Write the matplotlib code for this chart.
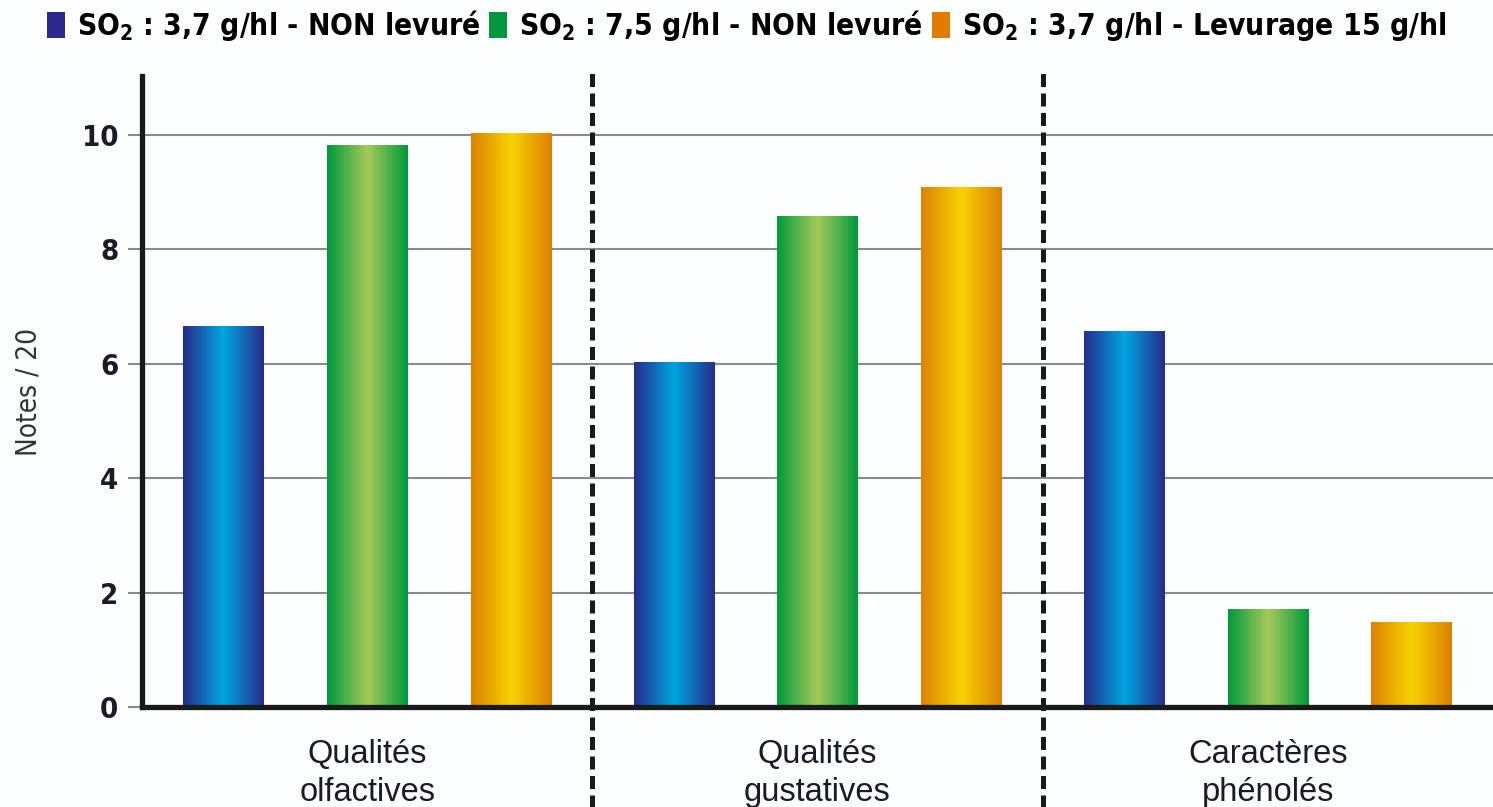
import numpy as np
import matplotlib.pyplot as plt
from matplotlib.colors import LinearSegmentedColormap
from matplotlib.patches import Patch
import matplotlib.transforms as mtransforms

plt.rcParams['font.family'] = ['DejaVu Sans Condensed', 'DejaVu Sans']
plt.rcParams['font.stretch'] = 'condensed'

# données
categories = ['Qualités\nolfactives', 'Qualités\ngustatives', 'Caractères\nphénolés']
series_names = ['SO$_\\mathregular{2}$ : 3,7 g/hl - NON levuré',
                'SO$_\\mathregular{2}$ : 7,5 g/hl - NON levuré',
                'SO$_\\mathregular{2}$ : 3,7 g/hl - Levurage 15 g/hl']
so2_37_non_levure = [6.66, 6.03, 6.57]
so2_75_non_levure = [9.83, 8.58, 1.71]
so2_37_levurage = [10.03, 9.09, 1.49]
yticks = [0, 2, 4, 6, 8, 10]

series = [so2_37_non_levure, so2_75_non_levure, so2_37_levurage]
# couleurs : bord, centre (dégradé horizontal)
gradients = [('#262c8a', '#00a6e2'), ('#009a3d', '#a6c95a'), ('#dc8200', '#f8d200')]
legend_colors = ['#2b2a8c', '#009640', '#e07b00']

fig = plt.figure(figsize=(14.93, 8.07), dpi=100)
fig.patch.set_facecolor('#fcfeff')
ax = fig.add_axes([0.0951, 0.1239, 0.9049, 0.7819])
ax.set_facecolor('#fcfeff')

x = np.arange(len(categories))
offset = 0.319
width = 0.178

for i, vals in enumerate(series):
    bars = ax.bar(x + (i - 1) * offset, vals, width, color=legend_colors[i], zorder=3)
    cmap = LinearSegmentedColormap.from_list('g%d' % i, [gradients[i][0], gradients[i][1], gradients[i][0]])
    grad = np.linspace(0, 1, 256).reshape(1, -1)
    for b in bars:
        x0, w, h = b.get_x(), b.get_width(), b.get_height()
        im = ax.imshow(grad, cmap=cmap, extent=[x0, x0 + w, 0, h], aspect='auto', zorder=4)
        im.set_clip_path(b)

ax.set_xlim(-0.5, 2.5)
ax.set_ylim(0, 11.03)

ax.set_yticks(yticks)
ax.set_yticklabels([str(t) for t in yticks], fontsize=21, fontweight='bold', color='#1a1a2a')
ax.set_xticks([])
ax.yaxis.grid(True, color='#8a8a8a', linewidth=1.5, zorder=1)
ax.tick_params(axis='y', length=10, width=1.5, color='#8a8a8a', pad=7)

for s in ['top', 'right']:
    ax.spines[s].set_visible(False)
for s in ['left', 'bottom']:
    ax.spines[s].set_linewidth(3.8)
    ax.spines[s].set_color('#1a1a1a')
    ax.spines[s].set_zorder(6)

# séparateurs pointillés
for xv in [0.5, 1.5]:
    ax.axvline(xv, ymin=-0.16, ymax=1.013, color='#1a1a1a', linewidth=3.6,
               linestyle=(0, (2.6, 1.3)), clip_on=False, zorder=5)

trans = mtransforms.blended_transform_factory(ax.transData, ax.transAxes)
for xi, lab in zip(x, categories):
    ax.text(xi, -0.05, lab, transform=trans, ha='center', va='top', fontsize=23.5,
            family=['Liberation Sans', 'DejaVu Sans'], stretch='normal',
            color='#1a1a2a', linespacing=1.3)

ax.set_ylabel('Notes / 20', fontsize=20, color='#333333', labelpad=28)

handles = [Patch(facecolor=c, edgecolor='none') for c in legend_colors]
fig.legend(handles, series_names, loc='upper center', bbox_to_anchor=(0.5, 1.012), ncol=3,
           frameon=False, prop={'weight': 'bold', 'size': 21.5, 'stretch': 'condensed'},
           handlelength=0.6, handleheight=0.95, handletextpad=0.4, columnspacing=0.3,
           borderaxespad=0.2)

fig.savefig('out.png', dpi=100, facecolor=fig.get_facecolor())
